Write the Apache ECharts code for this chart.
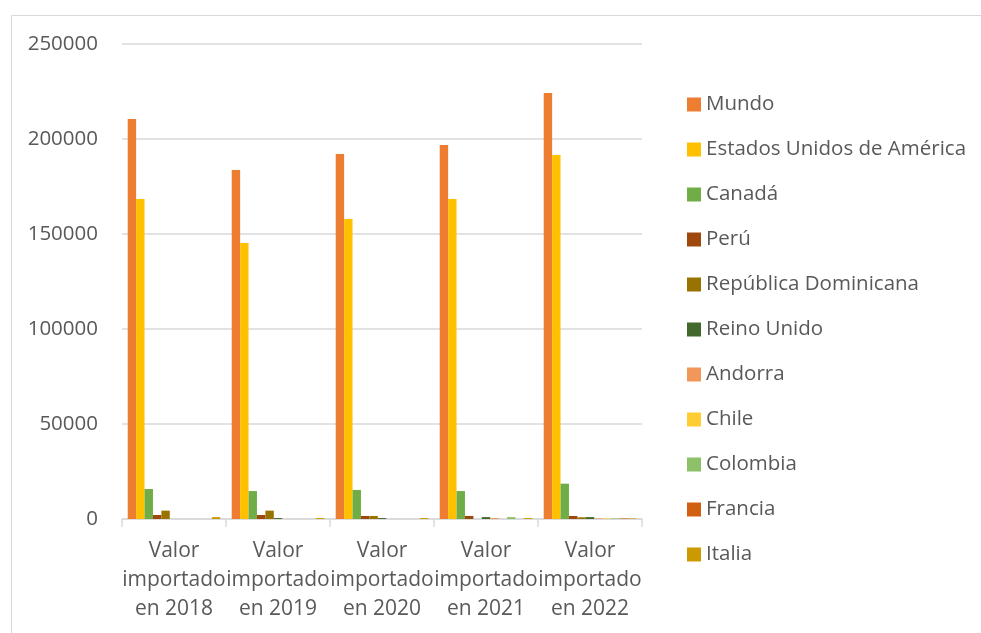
<!DOCTYPE html>
<html>
<head>
<meta charset="utf-8">
<script src="https://cdn.jsdelivr.net/npm/echarts@6/dist/echarts.min.js"></script>
<style>html,body{margin:0;padding:0;background:#fff}#c{width:981px;height:633px}</style>
</head>
<body>
<div id="c"></div>
<script>
const categories = ["Valor importado en 2018","Valor importado en 2019","Valor importado en 2020","Valor importado en 2021","Valor importado en 2022"];
const seriesNames = ["Mundo","Estados Unidos de América","Canadá","Perú","República Dominicana","Reino Unido","Andorra","Chile","Colombia","Francia","Italia"];
const mundo = [210500,183700,192100,196800,224200];
const estadosUnidos = [168400,145300,157900,168400,191600];
const canada = [15800,14700,15300,14700,18600];
const peru = [2100,2100,1600,1600,1600];
const republicaDominicana = [4400,4400,1600,0,900];
const reinoUnido = [0,500,500,1000,1000];
const andorra = [0,0,0,500,300];
const chile = [0,0,0,0,300];
const colombia = [0,0,0,1000,300];
const francia = [0,0,0,0,300];
const italia = [1000,500,500,500,300];
const yTicks = [0,50000,100000,150000,200000,250000];
const colors = ["#ED7D31","#FFC000","#70AD47","#9E480E","#997300","#43682B","#F1975A","#FFCD33","#8CC168","#D26012","#CC9A00"];
const values = [mundo,estadosUnidos,canada,peru,republicaDominicana,reinoUnido,andorra,chile,colombia,francia,italia];

const font = "'Open Sans', 'Noto Sans', sans-serif";
const chart = echarts.init(document.getElementById('c'), null, {renderer:'canvas'});
chart.setOption({
  animation:false,
  color: colors,
  textStyle:{fontFamily:font},
  graphic:[{type:'rect', left:9, top:13, shape:{width:1000,height:700}, style:{fill:'none', stroke:'#D9D9D9', lineWidth:1}, silent:true, z:-1}],
  grid:{left:122, right:339, top:44, bottom:114, containLabel:false},
  legend:{
    orient:'vertical', left:682, top:89, itemWidth:14, itemHeight:14, itemGap:24,
    icon:'rect',
    textStyle:{color:'#595959', fontSize:20.5, lineHeight:19, fontFamily:font, padding:[0,0,0,0]},
    data: seriesNames
  },
  xAxis:{
    type:'category', data:categories,
    axisLine:{lineStyle:{color:'#D9D9D9', width:1.5}},
    axisTick:{show:true, length:8, lineStyle:{color:'#D9D9D9', width:1.5}},
    axisLabel:{interval:0, color:'#595959', fontSize:21, lineHeight:29, margin:18, fontFamily:font,
      formatter:function(v){ const p=v.split(' '); return p[0]+'\n'+p[1]+'\n'+p[2]+' '+p[3]; }}
  },
  yAxis:{
    type:'value', min:yTicks[0], max:yTicks[yTicks.length-1], interval:yTicks[1]-yTicks[0],
    axisLine:{show:false}, axisTick:{show:false},
    splitLine:{lineStyle:{color:'#D9D9D9', width:1.5}},
    axisLabel:{color:'#595959', fontSize:20.5, margin:24, fontFamily:font, formatter:function(v){return String(v);}}
  },
  series: seriesNames.map((n,i)=>({
    name:n, type:'bar', data:values[i], barGap:'0%', barCategoryGap:'11%'
  }))
});
</script>
</body>
</html>
